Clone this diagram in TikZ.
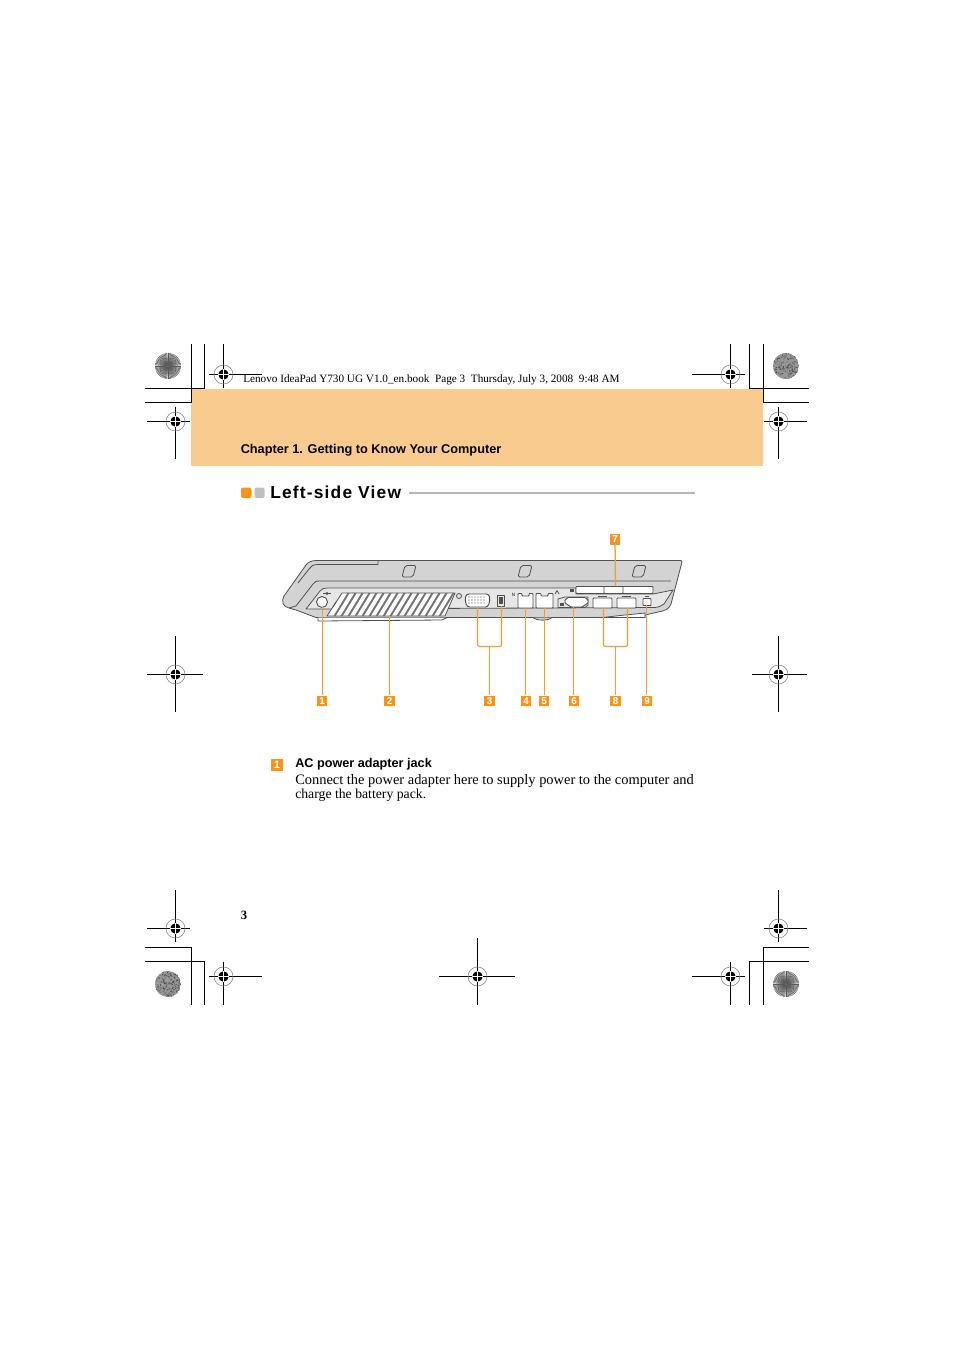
\documentclass[tikz,border=0pt]{standalone}
\usepackage{fontspec}
\setmainfont{Liberation Serif}
\setsansfont{Liberation Sans}
\newfontfamily\headfont[LetterSpace=7]{Liberation Sans}
\definecolor{bandcol}{HTML}{FACB8E}
\definecolor{calloutcol}{HTML}{F7941D}
\definecolor{leadcol}{HTML}{F89C30}
\definecolor{bodycol}{HTML}{D3D3D3}
\definecolor{panelcol}{HTML}{E6E6E6}
\definecolor{linecol}{HTML}{505050}
\tikzset{
  cropline/.style={black,line width=0.7pt},
  laptop/.style={draw=linecol,line width=0.6pt,line join=round},
  portbox/.style={laptop,fill=white,line width=0.7pt,rounded corners=0.5pt},
  leadline/.style={leadcol,line width=0.95pt},
  callout/.style={fill=calloutcol,text=white,inner sep=0pt,minimum size=8.2pt,font=\sffamily\bfseries\fontsize{7.4}{7}\selectfont},
  plain/.style={inner sep=0pt,anchor=base west}
}
% registration mark: x, y, left, top, right, bottom
\newcommand{\regmark}[6]{
\draw[black,line width=0.7pt] (#3,#2+0.5) -- (#5,#2+0.5);
\draw[black,line width=0.7pt] (#1+0.5,#4) -- (#1+0.5,#6);
\draw[gray,line width=0.4pt] (#1+0.5,#2+0.5) circle (9.5);
\fill[black] (#1+0.5,#2+0.5) circle (5.2);
\draw[white,line width=0.35pt] (#1-4.7,#2+0.5) -- (#1+5.7,#2+0.5) (#1+0.5,#2-4.7) -- (#1+0.5,#2+5.7);
}
% radial disc
\newcommand{\sundisc}[2]{
\fill[gray!30] (#1,#2) circle (13);
\foreach \a in {0,6,...,354} {
\draw[black!65,line width=0.4pt] (#1,#2) -- ++(\a:13);
}
\fill[black!60] (#1,#2) circle (1.5);
}
% speckled disc
\newcommand{\noisedisc}[2]{
\begin{scope}
\clip (#1,#2) circle (13);
\fill[gray!80] (#1,#2) circle (13);
\foreach \i in {1,...,320} {
\pgfmathsetmacro{\dx}{13*rand}
\pgfmathsetmacro{\dy}{13*rand}
\pgfmathsetmacro{\sh}{random(35,75)}
\fill[black!\sh] (#1+\dx,#2+\dy) circle (0.7);
}
\end{scope}
}
\begin{document}
\begin{tikzpicture}[x=0.75pt,y=-0.75pt]
\pgfmathsetseed{7}
\useasboundingbox (0,0) rectangle (954,1350);
\fill[white] (0,0) rectangle (954,1350);
\fill[bandcol] (191,389) rectangle (763,466);
% crop lines
\draw[cropline] (191.5,344) -- (191.5,402.5) -- (145,402.5);
\draw[cropline] (204.5,344) -- (204.5,388.5) -- (145,388.5);
\draw[cropline] (749.5,344) -- (749.5,388.5) -- (809,388.5);
\draw[cropline] (763.5,344) -- (763.5,402.5) -- (809,402.5);
\draw[cropline] (145,947.5) -- (191.5,947.5) -- (191.5,1005);
\draw[cropline] (145,961.5) -- (204.5,961.5) -- (204.5,1005);
\draw[cropline] (809,947.5) -- (763.5,947.5) -- (763.5,1005);
\draw[cropline] (809,961.5) -- (749.5,961.5) -- (749.5,1005);
% marks
\regmark{223}{374}{209}{344}{262}{388}
\regmark{730}{374}{692}{344}{745}{388}
\regmark{175}{421}{147}{407}{190}{459}
\regmark{778}{421}{764}{407}{807}{459}
\regmark{175}{674}{147}{636}{203}{712}
\regmark{778}{674}{752}{636}{807}{712}
\regmark{175}{928}{147}{890}{190}{942}
\regmark{778}{928}{764}{890}{807}{942}
\regmark{223}{976}{209}{962}{262}{1005}
\regmark{477}{976}{439}{938}{515}{1005}
\regmark{730}{976}{692}{962}{745}{1005}
\sundisc{168}{366}
\sundisc{786}{984}
\noisedisc{786}{366}
\noisedisc{168}{984}
% header
\node[plain] (bookline) at (243,382) {\fontsize{8.41}{10}\selectfont Lenovo IdeaPad Y730 UG V1.0\_en.book\ \ Page 3\ \ Thursday, July 3, 2008\ \ 9:48 AM};
\node[plain] (chapter) at (240.5,453) {\sffamily\bfseries\fontsize{9.55}{11}\selectfont Chapter 1. Getting to Know Your Computer};
\fill[calloutcol,rounded corners=1.5pt] (241,487.5) rectangle (251.5,498);
\fill[black!25,rounded corners=1.5pt] (254.5,487.5) rectangle (264.5,498);
\node[plain] (title) at (270,498) {\headfont\bfseries\fontsize{13}{15}\selectfont Left-side View};
\draw[black!28,line width=1.8pt] (409,493) -- (695,493);
% laptop body
\draw[laptop,fill=bodycol] (316,560.5) -- (681,560.5) -- (682,562) -- (671,604) .. controls (669,609) and (665,611) .. (658,612) -- (645,615) -- (645,617.5) -- (316,617.5) -- (296,610) -- (289,608) .. controls (283,607) and (281,601) .. (284,596) -- (306,565) .. controls (308,562) and (312,560.5) .. (316,560.5) -- cycle;
\draw[laptop] (378,561) -- (378,564.5) -- (318,564.5) .. controls (313,564.5) and (311,566) .. (309,569) -- (298,583);
\draw[laptop] (296,606) -- (313,584) .. controls (315,581.5) and (316,581) .. (320,581) -- (671,581);
\draw[laptop] (289,608) -- (296,606);
\draw[laptop,fill=panelcol] (327,588) -- (576,588) -- (576,594) -- (653,594) -- (673,590) -- (664,604) .. controls (661,606) and (659,607) .. (655,607.5) -- (306,609) -- (320,591) .. controls (322,588.5) and (324,588) .. (327,588) -- cycle;
\draw[laptop,fill=white] (318,617.5) -- (318,621) -- (442,620) -- (447,617.5);
\draw[laptop,fill=white] (603,617.5) -- (645,617.5) -- (645,613) -- (620,615.5) -- cycle;
\draw[laptop,fill=bodycol] (533,617.5) .. controls (537,621) and (548,621) .. (552,617.5);
% lid buttons
\foreach \bx in {409,525,639} {
\draw[laptop,rounded corners=1.5pt] (\bx-4,565.5) -- (\bx+7,565.5) -- (\bx+4,577) -- (\bx-7,577) -- cycle;
}
% vent
\draw[laptop,fill=white] (342,593) -- (455,593) -- (445,616) -- (327,616) -- cycle;
\foreach \vx in {0,1,...,15} {
\fill[linecol!80] (347.5+7*\vx,593) -- (349.7+7*\vx,593) -- (335.7+7*\vx,616) -- (333.5+7*\vx,616) -- cycle;
}
\draw[laptop] (336,602) -- (333,607);
% ports
\draw[portbox] (322,602) circle (5.5);
\draw[linecol,line width=0.7pt] (323,593.5) -- (331,593.5);
\fill[linecol] (327,593.5) circle (1.6);
\draw[laptop] (459,596) circle (2.5);
\draw[portbox,rounded corners=2pt] (466,594) -- (489,594) -- (490,600) -- (488,607) -- (467,607) -- (465,600) -- cycle;
\foreach \py in {597,600,603} {
\foreach \pv in {0,1,...,5} {
\fill[linecol] (469+3*\pv,\py) circle (0.7);
}
}
\draw[laptop,fill=panelcol] (497,595) rectangle (504,606);
\fill[linecol] (498.5,597) rectangle (502.5,604);
\draw[portbox] (518,593.5) -- (522,593.5) -- (522,596) -- (529,596) -- (529,593.5) -- (533,593.5) -- (533,608) -- (518,608) -- cycle;
\draw[portbox] (536,593.5) -- (541,593.5) -- (541,596) -- (548,596) -- (548,593.5) -- (553,593.5) -- (553,608) -- (536,608) -- cycle;
\node[inner sep=0pt,font=\sffamily\bfseries\fontsize{3.5}{4}\selectfont,text=linecol] (tagfour) at (513.5,595) {N};
\draw[laptop] (555,594) -- (557,590.5) -- (559,594);
\draw[laptop] (558,599) -- (565,597) -- (588,597) -- (588,605) -- (585,607.5) -- (558,607.5) -- cycle;
\draw[portbox] (568,597.5) -- (585,597.5) -- (588,600) -- (588,603) -- (582,607) -- (571,607) -- (565,603) -- (565,600) -- cycle;
\fill[linecol] (560,603) rectangle (564,606);
\draw[portbox] (593,598) rectangle (612,608);
\draw[portbox] (617,598) rectangle (636,608);
\draw[linecol,line width=0.6pt] (598,596) -- (607,596) (622,596) -- (631,596);
\draw[portbox] (643,598.5) rectangle (651,605.5);
\draw[linecol,line width=0.6pt] (645,596.5) -- (649,596.5);
% card slot
\draw[portbox] (576,586.5) rectangle (653,593.5);
\draw[portbox] (604,586.5) rectangle (623,593.5);
\fill[linecol] (570,588.5) rectangle (574,592);
% callouts
\node[callout] (numone) at (322,701) {1};
\node[callout] (numtwo) at (389.5,701) {2};
\node[callout] (numthree) at (489.5,701) {3};
\node[callout] (numfour) at (526,701) {4};
\node[callout] (numfive) at (544,701) {5};
\node[callout] (numsix) at (574,701) {6};
\node[callout] (numseven) at (615,539.5) {7};
\node[callout] (numeight) at (615.5,701) {8};
\node[callout] (numnine) at (647,701) {9};
\coordinate (jack) at (322.5,607);
\coordinate (vent) at (389.5,616);
\coordinate (vga) at (477.5,607);
\coordinate (esata) at (501.5,606);
\coordinate (rjone) at (525.5,608);
\coordinate (rjtwo) at (544.5,608);
\coordinate (hdmi) at (573.5,607);
\coordinate (slot) at (615.5,586);
\coordinate (usbone) at (603.5,608);
\coordinate (usbtwo) at (627.5,608);
\coordinate (firewire) at (646.5,605);
\coordinate (brvga) at (489.5,646.5);
\coordinate (brusb) at (615.5,646.5);
\draw[leadline] (jack) -- (jack |- numone.north);
\draw[leadline] (vent) -- (numtwo);
\draw[leadline] (brvga) -- (numthree);
\draw[leadline,rounded corners=1.5pt] (vga) |- (brvga) -| (esata);
\draw[leadline] (rjone) -- (rjone |- numfour.north);
\draw[leadline] (rjtwo) -- (rjtwo |- numfive.north);
\draw[leadline] (hdmi) -- (hdmi |- numsix.north);
\draw[leadline] (numseven) -- (slot);
\draw[leadline] (brusb) -- (numeight);
\draw[leadline,rounded corners=1.5pt] (usbone) |- (brusb) -| (usbtwo);
\draw[leadline] (firewire) -- (firewire |- numnine.north);
% description
\node[callout,minimum size=9.6pt,font=\sffamily\bfseries\fontsize{8}{8}\selectfont] (legendone) at (277,765) {1};
\node[plain] (legendhead) at (295,767.5) {\sffamily\bfseries\fontsize{9.5}{11}\selectfont AC power adapter jack};
\node[plain] (legendtext) at (295,784) {\fontsize{10.82}{10}\selectfont Connect the power adapter here to supply power to the computer and};
\node[plain] (legendmore) at (295,798) {\fontsize{10.3}{10}\selectfont charge the battery pack.};
\node[plain] (pagenum) at (240.5,919.5) {\bfseries\fontsize{9.5}{11}\selectfont 3};
\end{tikzpicture}
\end{document}
